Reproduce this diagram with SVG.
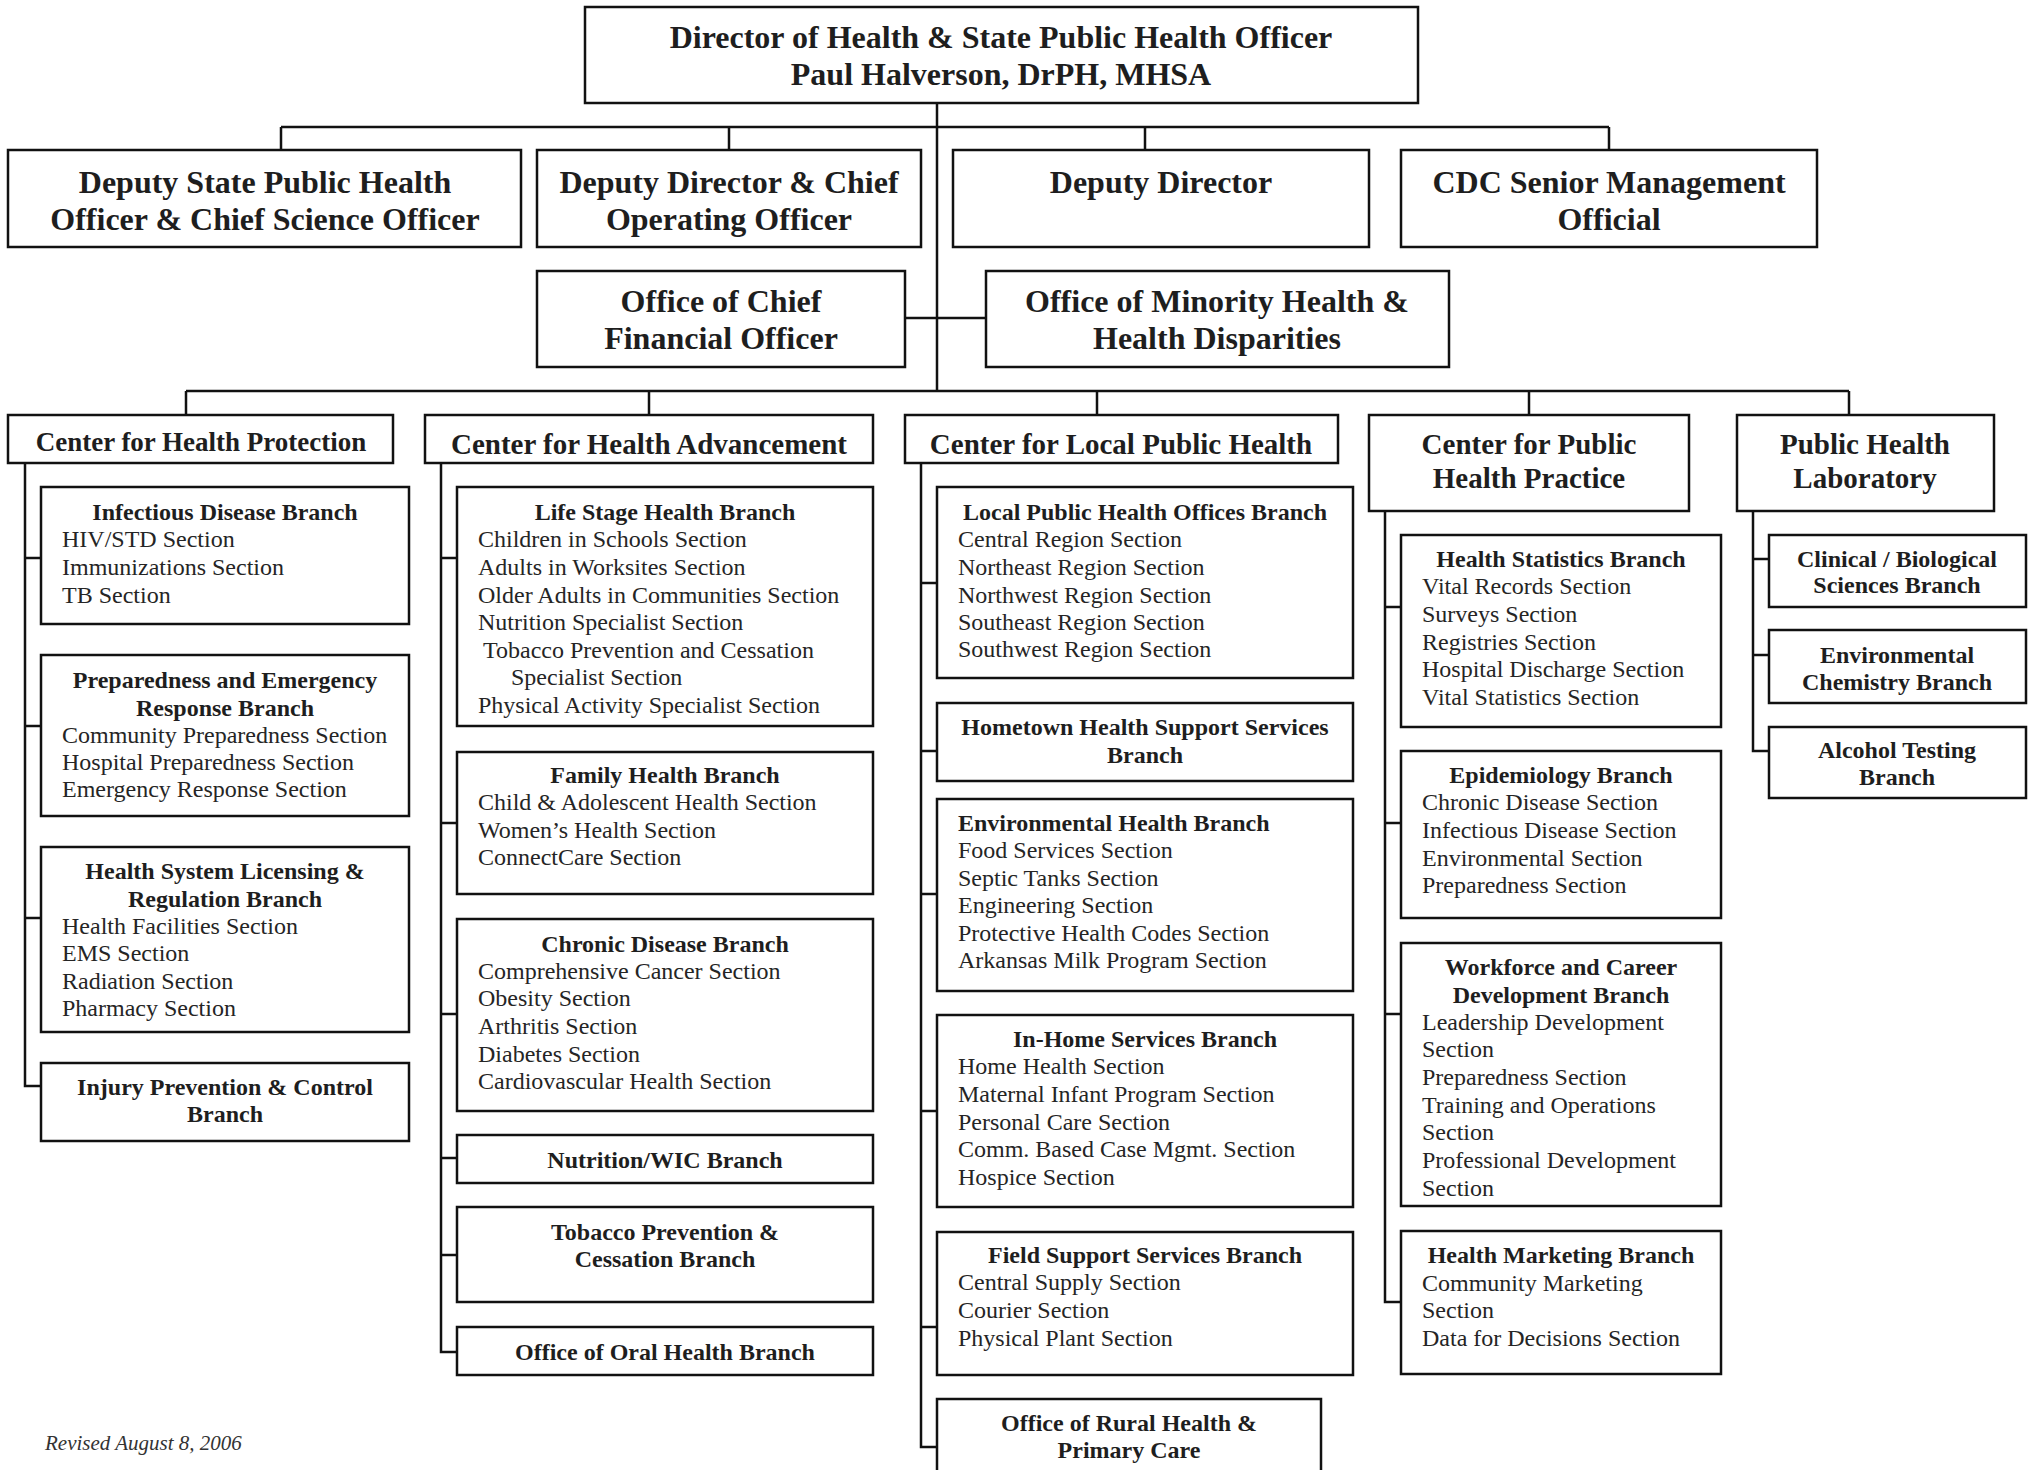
<svg xmlns="http://www.w3.org/2000/svg" width="2028" height="1470" viewBox="0 0 2028 1470">
<style>
.bg{fill:#fff}
.b{fill:#fff;stroke:#111;stroke-width:2.5}
.c{fill:none;stroke:#111;stroke-width:2.5}
text{font-family:"Liberation Serif","Times New Roman",serif;fill:#1e1e1e}
.h1{font-size:32px;font-weight:bold;text-anchor:middle}
.h2{font-size:29px;font-weight:bold;text-anchor:middle}
.h2s{font-size:27px;font-weight:bold;text-anchor:middle}
.bt{font-size:24px;font-weight:bold;text-anchor:middle}
.btl{font-size:24px;font-weight:bold}
.s{font-size:24px;fill:#252525}
.rev{font-size:21px;font-style:italic;fill:#333}
</style>
<rect class="bg" x="0" y="0" width="2028" height="1470"/>

<g id="connectors">
<path class="c" d="M937 103V391 M281 127H1609 M281 127V150 M729 127V150 M1145 127V150 M1609 127V150 M905 318H986 M186 391H1849 M186 391V415 M649 391V415 M1097 391V415 M1529 391V415 M1849 391V415"/>
<path class="c" d="M25 463V1086H41 M25 558H41 M25 726H41 M25 918H41"/>
<path class="c" d="M441 463V1352H457 M441 558H457 M441 823H457 M441 1014H457 M441 1158H457 M441 1255H457"/>
<path class="c" d="M921 463V1447H937 M921 583H937 M921 751H937 M921 894H937 M921 1111H937 M921 1327H937"/>
<path class="c" d="M1385 511V1302H1401 M1385 607H1401 M1385 823H1401 M1385 1014H1401"/>
<path class="c" d="M1753 511V751H1769 M1753 559H1769 M1753 655H1769"/>
</g>

<g id="director">
<rect class="b" x="585" y="7" width="833" height="96"/>
<text class="h1" x="1001" y="47.5">Director of Health &amp; State Public Health Officer</text>
<text class="h1" x="1001" y="84.5">Paul Halverson, DrPH, MHSA</text>
</g>

<g id="deputy-state">
<rect class="b" x="8" y="150" width="513" height="97"/>
<text class="h1" x="265" y="192.5">Deputy State Public Health</text>
<text class="h1" x="265" y="229.5">Officer &amp; Chief Science Officer</text>
</g>
<g id="deputy-coo">
<rect class="b" x="537" y="150" width="384" height="97"/>
<text class="h1" x="729" y="192.5">Deputy Director &amp; Chief</text>
<text class="h1" x="729" y="229.5">Operating Officer</text>
</g>
<g id="deputy-director">
<rect class="b" x="953" y="150" width="416" height="97"/>
<text class="h1" x="1161" y="192.5">Deputy Director</text>
</g>
<g id="cdc">
<rect class="b" x="1401" y="150" width="416" height="97"/>
<text class="h1" x="1609" y="192.5">CDC Senior Management</text>
<text class="h1" x="1609" y="229.5">Official</text>
</g>
<g id="cfo">
<rect class="b" x="537" y="271" width="368" height="96"/>
<text class="h1" x="721" y="311.5">Office of Chief</text>
<text class="h1" x="721" y="348.5">Financial Officer</text>
</g>
<g id="minority">
<rect class="b" x="986" y="271" width="463" height="96"/>
<text class="h1" x="1217" y="311.5">Office of Minority Health &amp;</text>
<text class="h1" x="1217" y="348.5">Health Disparities</text>
</g>

<g id="chp">
<rect class="b" x="8" y="415" width="385" height="48"/>
<text class="h2s" x="201" y="450.5">Center for Health Protection</text>
</g>
<g id="cha">
<rect class="b" x="425" y="415" width="448" height="48"/>
<text class="h2" x="649" y="453.5">Center for Health Advancement</text>
</g>
<g id="clph">
<rect class="b" x="905" y="415" width="433" height="48"/>
<text class="h2" x="1121" y="453.5">Center for Local Public Health</text>
</g>
<g id="cphp">
<rect class="b" x="1369" y="415" width="320" height="96"/>
<text class="h2" x="1529" y="453.5">Center for Public</text>
<text class="h2" x="1529" y="488">Health Practice</text>
</g>
<g id="phl">
<rect class="b" x="1737" y="415" width="257" height="96"/>
<text class="h2" x="1865" y="453.5">Public Health</text>
<text class="h2" x="1865" y="488">Laboratory</text>
</g>

<!-- CHP branches -->
<g id="infectious">
<rect class="b" x="41" y="487" width="368" height="137"/>
<text class="bt" x="225" y="520">Infectious Disease Branch</text>
<text class="s" x="62" y="547">HIV/STD Section</text>
<text class="s" x="62" y="575">Immunizations Section</text>
<text class="s" x="62" y="603">TB Section</text>
</g>
<g id="preparedness">
<rect class="b" x="41" y="655" width="368" height="161"/>
<text class="bt" x="225" y="688">Preparedness and Emergency</text>
<text class="bt" x="225" y="716">Response Branch</text>
<text class="s" x="62" y="743">Community Preparedness Section</text>
<text class="s" x="62" y="770">Hospital Preparedness Section</text>
<text class="s" x="62" y="797">Emergency Response Section</text>
</g>
<g id="licensing">
<rect class="b" x="41" y="847" width="368" height="185"/>
<text class="bt" x="225" y="879">Health System Licensing &amp;</text>
<text class="bt" x="225" y="907">Regulation Branch</text>
<text class="s" x="62" y="934">Health Facilities Section</text>
<text class="s" x="62" y="961">EMS Section</text>
<text class="s" x="62" y="989">Radiation Section</text>
<text class="s" x="62" y="1016">Pharmacy Section</text>
</g>
<g id="injury">
<rect class="b" x="41" y="1063" width="368" height="78"/>
<text class="bt" x="225" y="1095">Injury Prevention &amp; Control</text>
<text class="bt" x="225" y="1122">Branch</text>
</g>

<!-- CHA branches -->
<g id="lifestage">
<rect class="b" x="457" y="487" width="416" height="239"/>
<text class="bt" x="665" y="520">Life Stage Health Branch</text>
<text class="s" x="478" y="547">Children in Schools Section</text>
<text class="s" x="478" y="575">Adults in Worksites Section</text>
<text class="s" x="478" y="603">Older Adults in Communities Section</text>
<text class="s" x="478" y="630">Nutrition Specialist Section</text>
<text class="s" x="483" y="658">Tobacco Prevention and Cessation</text>
<text class="s" x="511" y="685">Specialist Section</text>
<text class="s" x="478" y="713">Physical Activity Specialist Section</text>
</g>
<g id="family">
<rect class="b" x="457" y="752" width="416" height="142"/>
<text class="bt" x="665" y="783">Family Health Branch</text>
<text class="s" x="478" y="810">Child &amp; Adolescent Health Section</text>
<text class="s" x="478" y="838">Women’s Health Section</text>
<text class="s" x="478" y="865">ConnectCare Section</text>
</g>
<g id="chronic">
<rect class="b" x="457" y="919" width="416" height="192"/>
<text class="bt" x="665" y="952">Chronic Disease Branch</text>
<text class="s" x="478" y="979">Comprehensive Cancer Section</text>
<text class="s" x="478" y="1006">Obesity Section</text>
<text class="s" x="478" y="1034">Arthritis Section</text>
<text class="s" x="478" y="1062">Diabetes Section</text>
<text class="s" x="478" y="1089">Cardiovascular Health Section</text>
</g>
<g id="wic">
<rect class="b" x="457" y="1135" width="416" height="48"/>
<text class="bt" x="665" y="1168">Nutrition/WIC Branch</text>
</g>
<g id="tobacco">
<rect class="b" x="457" y="1207" width="416" height="95"/>
<text class="bt" x="665" y="1240">Tobacco Prevention &amp;</text>
<text class="bt" x="665" y="1267">Cessation Branch</text>
</g>
<g id="oral">
<rect class="b" x="457" y="1327" width="416" height="48"/>
<text class="bt" x="665" y="1360">Office of Oral Health Branch</text>
</g>

<!-- CLPH branches -->
<g id="localoffices">
<rect class="b" x="937" y="487" width="416" height="191"/>
<text class="bt" x="1145" y="520">Local Public Health Offices Branch</text>
<text class="s" x="958" y="547">Central Region Section</text>
<text class="s" x="958" y="575">Northeast Region Section</text>
<text class="s" x="958" y="603">Northwest Region Section</text>
<text class="s" x="958" y="630">Southeast Region Section</text>
<text class="s" x="958" y="657">Southwest Region Section</text>
</g>
<g id="hometown">
<rect class="b" x="937" y="703" width="416" height="78"/>
<text class="bt" x="1145" y="735">Hometown Health Support Services</text>
<text class="bt" x="1145" y="763">Branch</text>
</g>
<g id="environmental">
<rect class="b" x="937" y="799" width="416" height="192"/>
<text class="btl" x="958" y="831">Environmental Health Branch</text>
<text class="s" x="958" y="858">Food Services Section</text>
<text class="s" x="958" y="886">Septic Tanks Section</text>
<text class="s" x="958" y="913">Engineering Section</text>
<text class="s" x="958" y="941">Protective Health Codes Section</text>
<text class="s" x="958" y="968">Arkansas Milk Program Section</text>
</g>
<g id="inhome">
<rect class="b" x="937" y="1015" width="416" height="192"/>
<text class="bt" x="1145" y="1047">In-Home Services Branch</text>
<text class="s" x="958" y="1074">Home Health Section</text>
<text class="s" x="958" y="1102">Maternal Infant Program Section</text>
<text class="s" x="958" y="1130">Personal Care Section</text>
<text class="s" x="958" y="1157">Comm. Based Case Mgmt. Section</text>
<text class="s" x="958" y="1185">Hospice Section</text>
</g>
<g id="fieldsupport">
<rect class="b" x="937" y="1232" width="416" height="143"/>
<text class="bt" x="1145" y="1263">Field Support Services Branch</text>
<text class="s" x="958" y="1290">Central Supply Section</text>
<text class="s" x="958" y="1318">Courier Section</text>
<text class="s" x="958" y="1346">Physical Plant Section</text>
</g>
<g id="rural">
<rect class="b" x="937" y="1399" width="384" height="90"/>
<text class="bt" x="1129" y="1431">Office of Rural Health &amp;</text>
<text class="bt" x="1129" y="1458">Primary Care</text>
</g>

<!-- CPHP branches -->
<g id="healthstats">
<rect class="b" x="1401" y="535" width="320" height="192"/>
<text class="bt" x="1561" y="567">Health Statistics Branch</text>
<text class="s" x="1422" y="594">Vital Records Section</text>
<text class="s" x="1422" y="622">Surveys Section</text>
<text class="s" x="1422" y="650">Registries Section</text>
<text class="s" x="1422" y="677">Hospital Discharge Section</text>
<text class="s" x="1422" y="705">Vital Statistics Section</text>
</g>
<g id="epidemiology">
<rect class="b" x="1401" y="751" width="320" height="167"/>
<text class="bt" x="1561" y="783">Epidemiology Branch</text>
<text class="s" x="1422" y="810">Chronic Disease Section</text>
<text class="s" x="1422" y="838">Infectious Disease Section</text>
<text class="s" x="1422" y="866">Environmental Section</text>
<text class="s" x="1422" y="893">Preparedness Section</text>
</g>
<g id="workforce">
<rect class="b" x="1401" y="943" width="320" height="263"/>
<text class="bt" x="1561" y="975">Workforce and Career</text>
<text class="bt" x="1561" y="1003">Development Branch</text>
<text class="s" x="1422" y="1030">Leadership Development</text>
<text class="s" x="1422" y="1057">Section</text>
<text class="s" x="1422" y="1085">Preparedness Section</text>
<text class="s" x="1422" y="1113">Training and Operations</text>
<text class="s" x="1422" y="1140">Section</text>
<text class="s" x="1422" y="1168">Professional Development</text>
<text class="s" x="1422" y="1196">Section</text>
</g>
<g id="marketing">
<rect class="b" x="1401" y="1231" width="320" height="143"/>
<text class="bt" x="1561" y="1263">Health Marketing Branch</text>
<text class="s" x="1422" y="1291">Community Marketing</text>
<text class="s" x="1422" y="1318">Section</text>
<text class="s" x="1422" y="1346">Data for Decisions Section</text>
</g>

<!-- PHL branches -->
<g id="clinical">
<rect class="b" x="1769" y="535" width="257" height="72"/>
<text class="bt" x="1897" y="567">Clinical / Biological</text>
<text class="bt" x="1897" y="593">Sciences Branch</text>
</g>
<g id="envchem">
<rect class="b" x="1769" y="630" width="257" height="73"/>
<text class="bt" x="1897" y="663">Environmental</text>
<text class="bt" x="1897" y="690">Chemistry Branch</text>
</g>
<g id="alcohol">
<rect class="b" x="1769" y="727" width="257" height="71"/>
<text class="bt" x="1897" y="758">Alcohol Testing</text>
<text class="bt" x="1897" y="785">Branch</text>
</g>

<text class="rev" x="45" y="1450">Revised August 8, 2006</text>
</svg>
